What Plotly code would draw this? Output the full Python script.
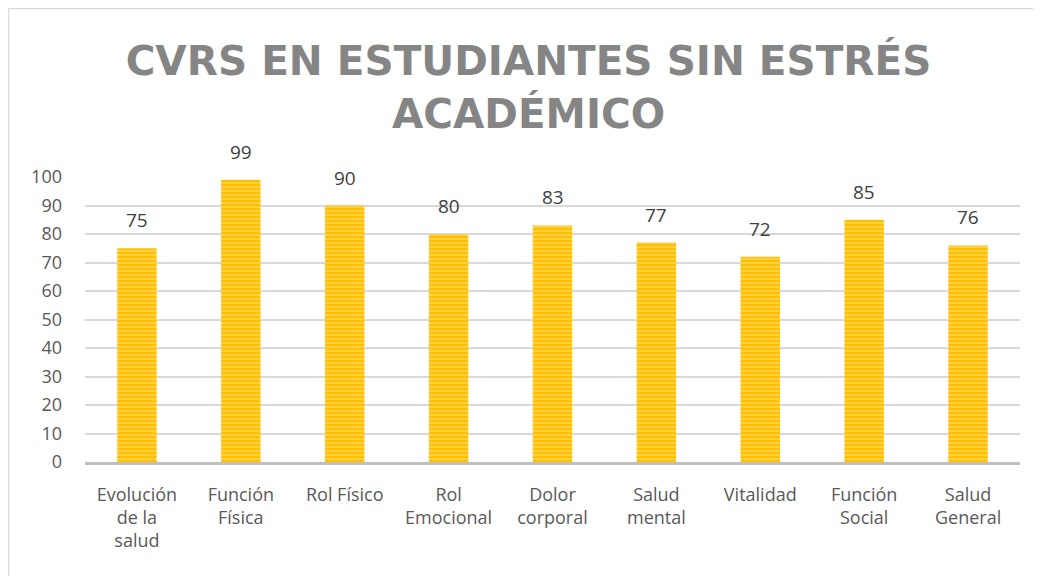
import plotly.graph_objects as go

categories = ["Evolución<br>de la<br>salud", "Función<br>Física", "Rol Físico", "Rol<br>Emocional",
              "Dolor<br>corporal", "Salud<br>mental", "Vitalidad", "Función<br>Social", "Salud<br>General"]
values = [75, 99, 90, 80, 83, 77, 72, 85, 76]
y_ticks = list(range(0, 101, 10))

W, H = 1041, 576
# page body adds an 8px offset, margins are in figure coords
L, R, T, B = 77, 29, 169, 122
PW, PH = W - L - R, H - T - B

fig = go.Figure()
fig.add_trace(go.Bar(
    x=categories,
    y=values,
    marker=dict(
        color="#FFC000",
        line=dict(width=0),
        pattern=dict(shape="-", bgcolor="#FFC000", fgcolor="#FFE699", size=4, solidity=0.45, fillmode="overlay"),
    ),
    width=0.38,
))

# data labels sit higher above the bars than plotly's outside text
for cat, val in zip(categories, values):
    fig.add_annotation(x=cat, y=val, text=str(val), showarrow=False, yshift=28,
                       font=dict(size=19, color="#404040", family="Open Sans"))

fig.update_layout(
    width=W, height=H,
    margin=dict(l=L, r=R, t=T, b=B),
    paper_bgcolor="white",
    plot_bgcolor="white",
    showlegend=False,
    title=dict(
        text="CVRS EN ESTUDIANTES SIN ESTRÉS<br>ACADÉMICO",
        x=0.5, xanchor="center", xref="container",
        y=1 - 67 / H, yanchor="middle", yref="container",
        font=dict(size=40.5, color="#858585", family="DejaVu Sans", weight="bold"),
    ),
    font=dict(family="Open Sans", size=18, color="#595959"),
)
fig.update_yaxes(
    range=[0, 100], tickvals=y_ticks, showgrid=True, gridcolor="#D9D9D9", gridwidth=1.5,
    zeroline=False, showline=False, ticks="", ticklabelstandoff=22, automargin=False,
    tickfont=dict(size=18, color="#595959"),
)
fig.update_xaxes(
    showline=True, linecolor="#BFBFBF", linewidth=3, ticks="", automargin=False,
    ticklabelstandoff=14,
    tickfont=dict(size=18, color="#595959"),
)
# chart border
fig.add_shape(type="rect", xref="paper", yref="paper",
              x0=0.5 / PW - L / PW, x1=1 + (R + 5) / PW,
              y0=-(B + 5) / PH, y1=1 + (T - 0.5) / PH,
              line=dict(color="#D9D9D9", width=1.5), layer="below")

fig.write_html("out.html")
